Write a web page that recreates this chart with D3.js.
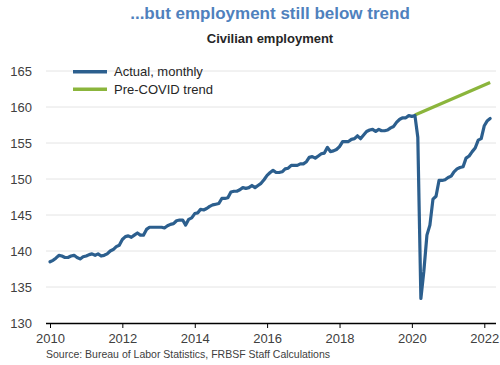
<!DOCTYPE html>
<html><head><meta charset="utf-8">
<script src="https://cdn.jsdelivr.net/npm/d3@7"></script>
<style>body{margin:0;background:#fff}svg{display:block;font-family:"Liberation Sans",Arial,sans-serif}</style>
</head><body><svg id="c" width="500" height="365"></svg>
<script>
const title = "...but employment still below trend";
const subtitle = "Civilian employment";
const source = "Source: Bureau of Labor Statistics, FRBSF Staff Calculations";
const seriesNames = ["Actual, monthly", "Pre-COVID trend"];
const startMonth = "2010-01";
// Civilian employment, millions, monthly from Jan 2010
const actual = [
 138.5,138.7,139.0,139.4,139.3,139.1,139.1,139.3,139.4,139.1,138.9,139.2,
 139.3,139.5,139.6,139.4,139.6,139.3,139.4,139.6,140.0,140.2,140.6,140.8,
 141.6,142.0,142.1,141.9,142.2,142.5,142.2,142.2,143.0,143.3,143.3,143.3,
 143.3,143.3,143.2,143.5,143.7,143.8,144.2,144.3,144.3,143.6,144.4,144.6,
 145.2,145.3,145.8,145.7,145.9,146.2,146.4,146.5,146.6,147.3,147.3,147.4,
 148.2,148.3,148.3,148.5,148.8,148.7,148.8,149.1,148.8,149.1,149.4,149.9,
 150.5,150.9,151.2,150.9,150.9,151.0,151.4,151.5,151.9,151.9,151.9,152.1,
 152.1,152.4,153.0,153.1,152.9,153.2,153.5,153.6,154.4,153.8,153.9,154.1,
 154.5,155.2,155.2,155.2,155.5,155.6,156.0,155.6,156.1,156.6,156.8,156.9,
 156.6,156.9,156.7,156.7,156.8,157.1,157.3,157.9,158.3,158.5,158.5,158.8,
 158.7,158.8,155.8,133.4,137.2,142.2,143.6,147.2,147.6,149.8,149.8,149.9,
 150.2,150.4,151.0,151.4,151.6,151.7,152.9,153.2,153.8,154.3,155.4,155.6,
 157.4,158.1,158.4
];
const trendDates = ["2020-02", "2022-03"];
const trendValues = [158.9, 163.4];
const yTicks = [130,135,140,145,150,155,160,165];
const xTicks = [2010,2012,2014,2016,2018,2020,2022];

const parse = d3.timeParse("%Y-%m");
const t0 = parse(startMonth);
const actualData = actual.map((v,i)=>({date:d3.timeMonth.offset(t0,i), value:v}));
const trendData = trendDates.map((d,i)=>({date:parse(d), value:trendValues[i]}));

const svg = d3.select("#c");
const x = d3.scaleTime().domain([new Date(2010,0,1), new Date(2022,0,1)]).range([50, 484.3]);
const y = d3.scaleLinear().domain([130,165]).range([323,71]);
const plotL = 46, plotR = 496;

const blue = "#2C5F8E", green = "#8BB53C";

svg.append("text").attr("x",270).attr("y",18.5).attr("text-anchor","middle")
  .attr("font-size",17).attr("font-weight","bold").attr("fill","#4F81BD").text(title);
svg.append("text").attr("x",270).attr("y",42.5).attr("text-anchor","middle")
  .attr("font-size",13).attr("font-weight","bold").attr("fill","#262626").text(subtitle);

// gridlines
svg.append("g").selectAll("line").data(yTicks.filter(d=>d>130)).join("line")
  .attr("x1",plotL).attr("x2",plotR).attr("y1",d=>y(d)).attr("y2",d=>y(d))
  .attr("stroke","#e4e4e4").attr("stroke-width",1);

// y labels
svg.append("g").selectAll("text").data(yTicks).join("text")
  .attr("x",32).attr("y",d=>y(d)+4.5).attr("text-anchor","end")
  .attr("font-size",13).attr("fill","#404040").text(d=>d);

// x axis
const xAxis = d3.axisBottom(x).tickValues(xTicks.map(yr=>new Date(yr,0,1)))
  .tickFormat(d3.timeFormat("%Y")).tickSize(5).tickSizeOuter(0);
const gx = svg.append("g").attr("transform","translate(0,323)").call(xAxis);
gx.select(".domain").attr("d",`M${plotL},0.5H${plotR}`).attr("stroke","#000").attr("stroke-width",1.5);
gx.selectAll(".tick line").attr("stroke","#000");
gx.selectAll(".tick text").attr("font-size",13).attr("fill","#404040").attr("dy","0.95em")
  .attr("font-family","Liberation Sans, Arial, sans-serif");

// lines
const line = d3.line().x(d=>x(d.date)).y(d=>y(d.value));
svg.append("path").datum(trendData).attr("d",line).attr("fill","none")
  .attr("stroke",green).attr("stroke-width",3.2);
svg.append("path").datum(actualData).attr("d",line).attr("fill","none")
  .attr("stroke",blue).attr("stroke-width",3.2).attr("stroke-linejoin","round").attr("stroke-linecap","round");

// legend
const leg = svg.append("g");
[blue, green].forEach((c,i)=>{
  const yy = 71.7 + i*17.6;
  leg.append("line").attr("x1",73).attr("x2",107).attr("y1",yy).attr("y2",yy)
    .attr("stroke",c).attr("stroke-width",3.5);
  leg.append("text").attr("x",114).attr("y",yy+4.5).attr("font-size",13)
    .attr("fill","#262626").text(seriesNames[i]);
});

svg.append("text").attr("x",46).attr("y",358).attr("font-size",10.5)
  .attr("fill","#404040").text(source);
</script></body></html>
